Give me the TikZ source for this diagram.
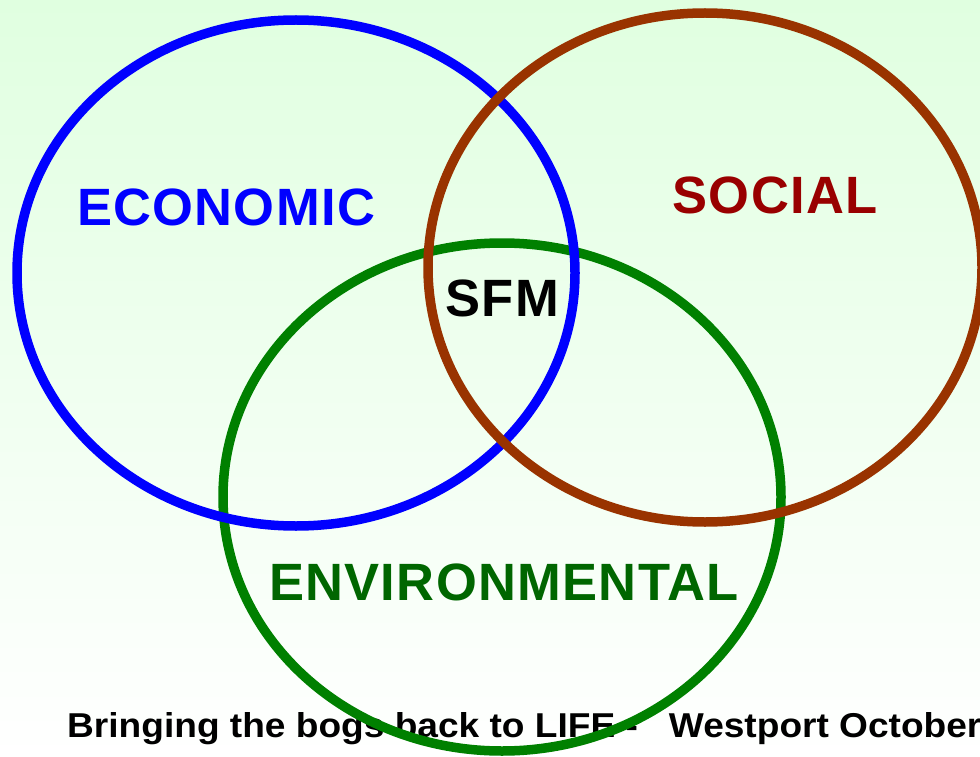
\documentclass[tikz,border=0pt]{standalone}
\usepackage{fontspec}
\setmainfont{Liberation Sans}
\newfontfamily\labelfont[LetterSpace=2.5]{Liberation Sans}
\definecolor{bgtop}{RGB}{224,255,224}
\definecolor{ringblue}{RGB}{0,0,255}
\definecolor{ringbrown}{RGB}{153,51,0}
\definecolor{ringgreen}{RGB}{0,128,0}
\definecolor{socialred}{RGB}{153,0,0}
\definecolor{envgreen}{RGB}{0,102,0}
\tikzset{
  ring/.style={line width=9.5pt},
  biglabel/.style={font=\labelfont\fontsize{52.5}{60}\selectfont\bfseries, inner sep=0pt, anchor=base},
  footer/.style={font=\fontsize{34.5}{40}\selectfont\bfseries, inner sep=0pt, anchor=base west}
}
\begin{document}
\begin{tikzpicture}[x=1pt,y=-1pt]
\useasboundingbox (0,0) rectangle (980,757);
\clip (0,0) rectangle (980,757);
\shade[top color=bgtop, bottom color=white] (0,0) rectangle (980,757);
\node[biglabel, text=ringblue] (eco) at (226,225) {ECONOMIC};
\node[biglabel, text=socialred] (soc) at (775,213) {SOCIAL};
\node[biglabel, text=black] (sfm) at (502,316) {SFM};
\node[biglabel, text=envgreen] (env) at (504,600) {ENVIRONMENTAL};
\node[footer] (foot) at (67,737) {\scalebox{1.075}[1]{Bringing the bogs back to LIFE -\ \ \ Westport October}};
\draw[ring, ringgreen] (502,497) ellipse [x radius=279pt, y radius=254pt];
\draw[ring, ringblue] (296,273) ellipse [x radius=279pt, y radius=253pt];
\draw[ring, ringbrown] (705,267.5) ellipse [x radius=277pt, y radius=254.5pt];
\end{tikzpicture}
\end{document}
